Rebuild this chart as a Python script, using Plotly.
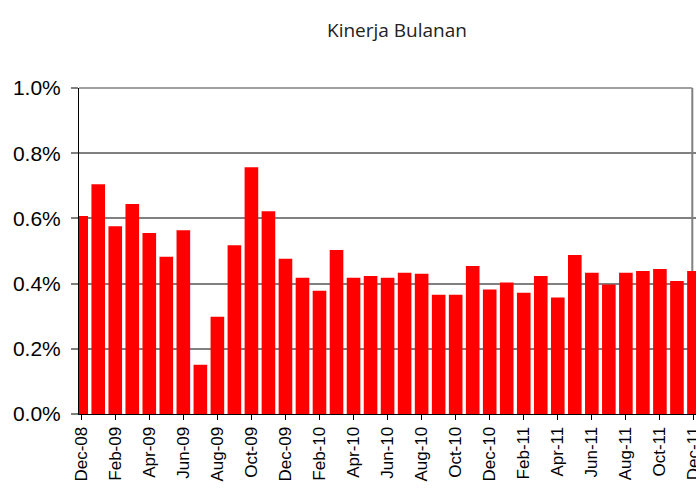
import plotly.graph_objects as go

months = ["Dec-08", "Jan-09", "Feb-09", "Mar-09", "Apr-09", "May-09", "Jun-09", "Jul-09",
          "Aug-09", "Sep-09", "Oct-09", "Nov-09", "Dec-09", "Jan-10", "Feb-10", "Mar-10",
          "Apr-10", "May-10", "Jun-10", "Jul-10", "Aug-10", "Sep-10", "Oct-10", "Nov-10",
          "Dec-10", "Jan-11", "Feb-11", "Mar-11", "Apr-11", "May-11", "Jun-11", "Jul-11",
          "Aug-11", "Sep-11", "Oct-11", "Nov-11", "Dec-11"]

returns_pct = [0.607, 0.705, 0.576, 0.644, 0.555, 0.482, 0.564, 0.151,
               0.298, 0.518, 0.757, 0.622, 0.476, 0.418, 0.378, 0.503,
               0.418, 0.423, 0.418, 0.433, 0.430, 0.366, 0.366, 0.454,
               0.382, 0.403, 0.372, 0.423, 0.357, 0.488, 0.433, 0.397,
               0.433, 0.439, 0.445, 0.408, 0.439]

values = [v / 100 for v in returns_pct]
tick_months = months[::2]

W, H = 696, 488

fig = go.Figure(go.Bar(x=months, y=values, marker=dict(color="#ff0000", line=dict(width=0))))

fig.update_layout(
    width=W, height=H,
    margin=dict(l=79, r=0, t=87.7, b=73.7, autoexpand=False),
    paper_bgcolor="white", plot_bgcolor="white",
    bargap=0.2,
    showlegend=False,
    title=dict(text="Kinerja Bulanan", x=397/W, xref="container", xanchor="center",
               y=1 - 30/H, yref="container", yanchor="middle",
               font=dict(family="Open Sans", size=19, color="#222222")),
    font=dict(family="Liberation Sans, Arial", color="black"),
)

fig.update_xaxes(
    type="category", automargin=False,
    range=[-0.13, 36.12],
    tickmode="array", tickvals=tick_months, ticktext=tick_months,
    tickangle=-90, tickfont=dict(size=17, color="black"),
    ticks="outside", ticklen=5, tickcolor="black", tickwidth=1,
    showline=True, linecolor="black", linewidth=1,
    showgrid=False,
)

fig.update_yaxes(
    automargin=False,
    range=[0, 0.01], dtick=0.002, tickformat=".1%",
    tickfont=dict(size=21, color="black"),
    ticks="outside", ticklen=7, tickcolor="#808080", tickwidth=1.5,
    ticklabelstandoff=6,
    showgrid=True, gridcolor="#808080", gridwidth=1.5,
    showline=True, linecolor="black", linewidth=1,
    zeroline=False,
)

xr = (692.3 - 79) / 617
fig.add_shape(type="line", xref="paper", yref="paper", x0=xr, x1=xr,
              y0=0, y1=1, line=dict(color="#808080", width=2), layer="below")
fig.add_shape(type="line", xref="paper", yref="paper", x0=0, x1=xr,
              y0=1, y1=1, line=dict(color="#808080", width=1.5), layer="below")

fig.write_html("out.html", config={"displayModeBar": False},
               post_script="document.body.style.margin='0px';document.body.style.overflow='hidden';")
